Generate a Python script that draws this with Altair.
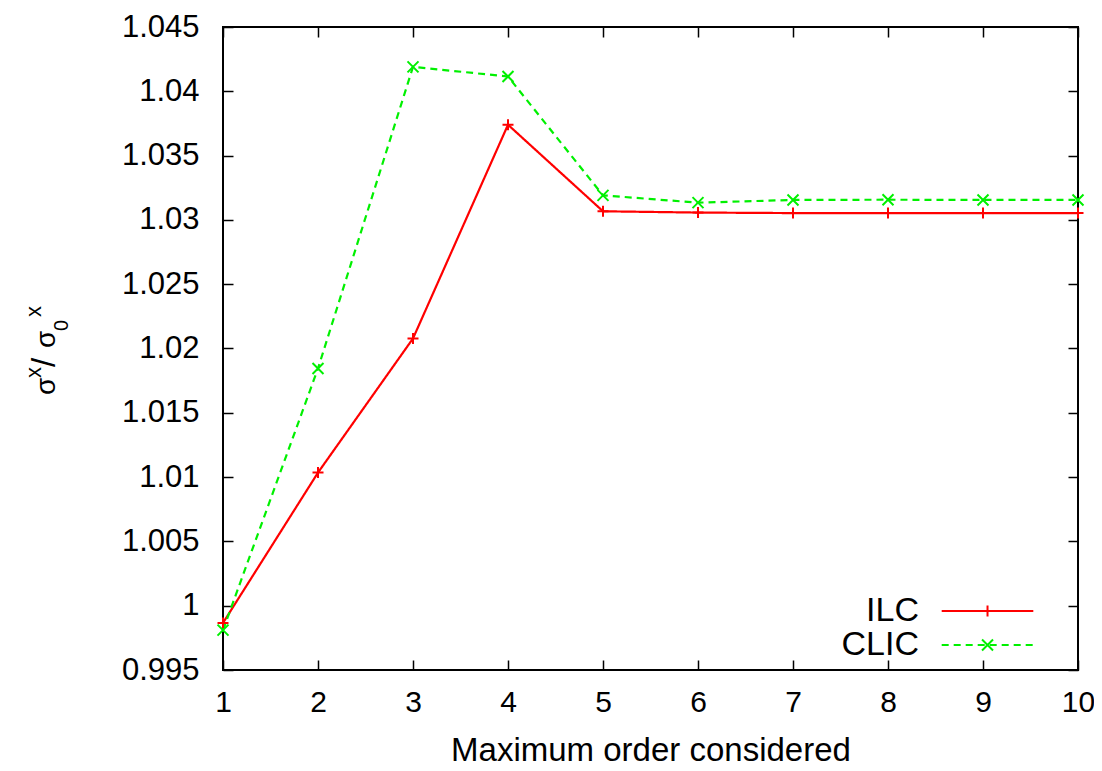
import altair as alt
import pandas as pd

# ---- data ----
orders = [1, 2, 3, 4, 5, 6, 7, 8, 9, 10]
ilc = [0.99866, 1.01035, 1.02078, 1.03740, 1.03067, 1.03057, 1.03053, 1.03053, 1.03053, 1.03053]
clic = [0.99810, 1.01845, 1.04190, 1.04115, 1.03191, 1.03134, 1.03155, 1.03157, 1.03155, 1.03155]
series_names = ["ILC", "CLIC"]
series_colors = ["#ff0000", "#00f000"]
series_dashes = [[1, 0], [7, 5]]
y_ticks = [0.995, 1.0, 1.005, 1.01, 1.015, 1.02, 1.025, 1.03, 1.035, 1.04, 1.045]
x_ticks = [1, 2, 3, 4, 5, 6, 7, 8, 9, 10]
x_title = "Maximum order considered"
# y title  σ^x / σ_0^x  written as pieces (text, font size, x, y) for super/subscripts
y_title_pieces = [("σ", 28, -168, 368), ("x", 22, -182, 351), ("/", 33, -168, 340),
                  ("σ", 28, -168, 321), ("0", 20, -155, 304), ("x", 22, -182, 290)]

rows = []
for name, vals in zip(series_names, [ilc, clic]):
    for o, v in zip(orders, vals):
        rows.append({"order": o, "value": v, "series": name})
df = pd.DataFrame(rows)

FONT = "Liberation Sans"
W, H = 855, 643
PLUS = "M-1,0H1M0,-1V1"
CROSS = "M-1,-1L1,1M-1,1L1,-1"
# legend glyphs (drawn to the right of the legend anchor, gnuplot style: label | sample)
LEG_LINE = "M8.82,0H29.18"
LEG_PLUS = "M14.55,0H16.55M15.55,-1V1"
LEG_CROSS = "M14.55,-1L16.55,1M14.55,1L16.55,-1"

xscale = alt.Scale(domain=[1, 10], nice=False, zero=False)
yscale = alt.Scale(domain=[0.995, 1.045], nice=False, zero=False)

legend_common = dict(
    title=None, orient="none", legendX=662, legendY=567, padding=0,
    symbolStrokeWidth=2, labelFontSize=34, labelFont=FONT,
    labelAlign="right", labelBaseline="middle", labelOffset=0, rowPadding=0,
    labelColor="black",
)
line_legend = alt.Legend(symbolType=LEG_LINE, symbolSize=81, **legend_common)
mark_legend = alt.Legend(labelOpacity=0, symbolSize=121, **legend_common)

lines = alt.Chart(df).mark_line(strokeWidth=2.2).encode(
    x=alt.X("order:Q", scale=xscale, title=x_title,
            axis=alt.Axis(orient="bottom", values=x_ticks, format="d", ticks=False, tickSize=0,
                          domain=False, grid=False, labelFontSize=30, labelPadding=17,
                          labelFlush=False, labelOverlap=False, titleFontSize=33,
                          titleY=90, titleBaseline="alphabetic")),
    y=alt.Y("value:Q", scale=yscale, title=None,
            axis=alt.Axis(orient="left", values=y_ticks, format="~g", ticks=False, tickSize=0,
                          domain=False, grid=False, labelFontSize=31, labelPadding=24,
                          labelFlush=False, labelOverlap=False)),
    color=alt.Color("series:N", scale=alt.Scale(domain=series_names, range=series_colors),
                    legend=line_legend),
    strokeDash=alt.StrokeDash("series:N", scale=alt.Scale(domain=series_names, range=series_dashes),
                              legend=line_legend),
)

points = alt.Chart(df).mark_point(filled=False, size=121, strokeWidth=2, opacity=1).encode(
    x=alt.X("order:Q", scale=xscale, title=None,
            axis=alt.Axis(orient="top", offset=-H, values=x_ticks, labels=False, domain=False,
                          grid=False, ticks=True, tickSize=10, tickWidth=1.5, tickColor="black")),
    y=alt.Y("value:Q", scale=yscale, title=None,
            axis=alt.Axis(orient="right", offset=-W, values=y_ticks, labels=False, domain=False,
                          grid=False, ticks=True, tickSize=10, tickWidth=1.5, tickColor="black")),
    color=alt.Color("series:N", scale=alt.Scale(domain=series_names, range=series_colors),
                    legend=None),
    shape=alt.Shape("series:N", scale=alt.Scale(domain=series_names, range=[PLUS, CROSS]),
                    legend=None),
)

ticks_layer = alt.Chart(df).mark_point(opacity=0).encode(
    x=alt.X("order:Q", scale=xscale, title=None,
            axis=alt.Axis(orient="bottom", offset=-H, values=x_ticks, labels=False, domain=False,
                          grid=False, ticks=True, tickSize=10, tickWidth=1.5, tickColor="black")),
    y=alt.Y("value:Q", scale=yscale, title=None,
            axis=alt.Axis(orient="left", offset=-W, values=y_ticks, labels=False, domain=False,
                          grid=False, ticks=True, tickSize=10, tickWidth=1.5, tickColor="black")),
)

# legend-only layer (draws nothing in the plot, supplies the marker glyphs of the key)
legend_marks = alt.Chart(df).transform_filter("false").mark_point(
    filled=False, size=121, strokeWidth=2, opacity=1
).encode(
    x=alt.X("order:Q", scale=xscale, axis=None),
    y=alt.Y("value:Q", scale=yscale, axis=None),
    color=alt.Color("series:N", scale=alt.Scale(domain=series_names, range=series_colors),
                    legend=mark_legend),
    shape=alt.Shape("series:N", scale=alt.Scale(domain=series_names, range=[LEG_PLUS, LEG_CROSS]),
                    legend=mark_legend),
)

# y-axis title with superscripts / subscript
title_layers = []
for txt, fs, px, py in y_title_pieces:
    title_layers.append(
        alt.Chart(alt.InlineData(values=[{"t": txt}])).mark_text(
            font=FONT, fontSize=fs, angle=270, align="left", baseline="alphabetic", color="black"
        ).encode(text="t:N", x=alt.value(px), y=alt.value(py))
    )

chart = (
    alt.layer(lines, points, ticks_layer, legend_marks, *title_layers)
    .resolve_scale(color="independent", shape="independent", strokeDash="independent")
    .resolve_axis(x="independent", y="independent")
    .properties(
        width=W, height=H,
        autosize=alt.AutoSizeParams(type="none"),
        padding={"left": 215, "top": 19, "right": 16, "bottom": 91},
        background="white",
    )
    .configure_view(stroke="black", strokeWidth=2)
    .configure_axis(labelFont=FONT, titleFont=FONT, labelColor="black", titleColor="black",
                    titleFontWeight="normal")
)

chart.save("out.html", embed_options={"renderer": "svg", "actions": False})
